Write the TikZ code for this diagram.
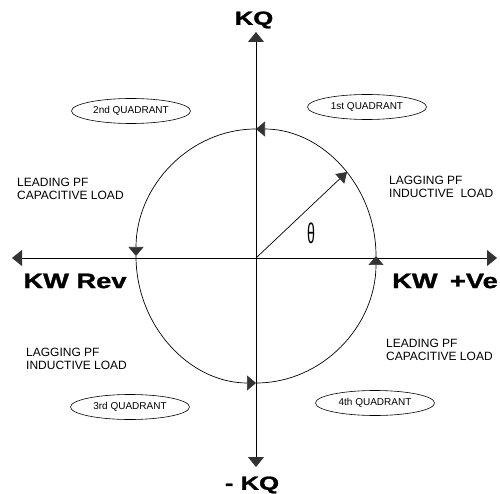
\documentclass[tikz,border=0pt]{standalone}
\usepackage{fontspec}
\setmainfont{Liberation Sans}
\newfontfamily\heavyface[FakeBold=1.2]{Liberation Sans Bold}
\usepackage{graphicx}
\usetikzlibrary{arrows.meta,shapes.geometric}
\definecolor{TipGray}{HTML}{333333}

\begin{document}
\begin{tikzpicture}[x=1pt,y=1pt,
    axisline/.style={line width=0.8pt,{Triangle[length=10pt,width=16pt,color=TipGray]}-{Triangle[length=10pt,width=16pt,color=TipGray]}},
    circarc/.style={line width=0.7pt,-{Triangle[length=9pt,width=15pt,color=TipGray]}},
    quadtag/.style={draw,ellipse,line width=0.6pt,minimum width=119pt,minimum height=25pt,inner sep=0pt,font=\fontsize{10}{10}\selectfont},
    loadnote/.style={anchor=west,align=left,inner sep=0pt,font=\fontsize{12}{13.5}\selectfont},
    biglabel/.style={inner sep=0pt,font=\heavyface\fontsize{21}{21}\selectfont}]
    \useasboundingbox (0,0) rectangle (500,493);
    % axes
    \coordinate (O) at (256,235);
    \coordinate (Nax) at (256,461);
    \coordinate (Sax) at (256,26);
    \coordinate (Wax) at (12,235);
    \coordinate (Eax) at (497,235);
    \draw[axisline] (Sax) -- (Nax);
    \draw[axisline] (Wax) -- (Eax);
    % circle, drawn as four arcs
    \coordinate (Rt) at (376,237);
    \coordinate (Tp) at (256,364);
    \coordinate (Lf) at (136,237);
    \coordinate (Bt) at (256,110);
    \draw[circarc] (Rt) arc[start angle=0,end angle=90,x radius=120,y radius=127];
    \draw[circarc] (Tp) arc[start angle=90,end angle=180,x radius=120,y radius=127];
    \draw[circarc] (Lf) arc[start angle=180,end angle=270,x radius=120,y radius=127];
    \draw[circarc] (Bt) arc[start angle=270,end angle=360,x radius=120,y radius=127];
    % phasor
    \coordinate (P) at (347,321);
    \draw[line width=0.7pt,-{Triangle[length=10pt,width=13pt,color=TipGray]}] (O) -- (P);
    \node[inner sep=0pt,font=\fontsize{15}{15}\selectfont] (theta) at (311,260) {\scalebox{0.95}[1.9]{θ}};
    % axis labels
    \node[biglabel,font=\heavyface\fontsize{19}{19}\selectfont] (kq) at (254,473) {\scalebox{1.35}[1]{KQ}};
    \node[biglabel,font=\heavyface\fontsize{19}{19}\selectfont] (negkq) at (252,8) {\scalebox{1.35}[1]{- KQ}};
    \node[biglabel] (kwrev) at (75,212) {\scalebox{1.3}[1]{KW Rev}};
    \node[biglabel] (kwpos) at (445,212) {\scalebox{1.3}[1]{KW\hspace{0.45em}+Ve}};
    % quadrants
    \node[quadtag] (q1) at (367,386) {1st QUADRANT};
    \node[quadtag] (q2) at (131,382) {2nd QUADRANT};
    \node[quadtag] (q3) at (130,86) {3rd QUADRANT};
    \node[quadtag] (q4) at (375,90) {4th QUADRANT};
    % load notes
    \node[loadnote] (lagtop) at (389,306) {LAGGING PF\\INDUCTIVE\ \ LOAD};
    \node[loadnote] (leadtop) at (17,304) {LEADING PF\\CAPACITIVE LOAD};
    \node[loadnote] (lagbot) at (26,134) {LAGGING PF\\INDUCTIVE LOAD};
    \node[loadnote] (leadbot) at (386,143) {LEADING PF\\CAPACITIVE LOAD};
  \end{tikzpicture}
\end{document}
